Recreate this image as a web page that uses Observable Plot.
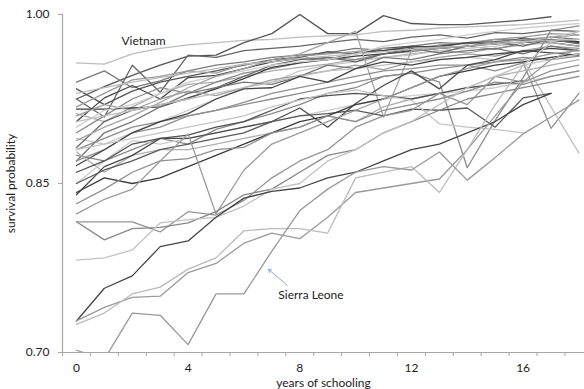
<!DOCTYPE html>
<html>
<head>
<meta charset="utf-8">
<script src="https://cdn.jsdelivr.net/npm/d3@7"></script>
<script src="https://cdn.jsdelivr.net/npm/@observablehq/plot@0.6"></script>
<style>
  html, body { margin: 0; padding: 0; background: #fff; }
  #chart svg { display: block; font-family: Lato, "Open Sans", sans-serif; }
</style>
</head>
<body>
<div id="chart"></div>
<script>
// years of schooling (x categories)
const years = [0,1,2,3,4,5,6,7,8,9,10,11,12,13,14,15,16,17,18];
const xTickLabels = [0, 4, 8, 12, 16];
const yTickLabels = [0.70, 0.85, 1.00];

// survival probability by years of schooling, one array per country
const seriesValues = [
  [0.957,0.956,0.965,0.970,0.973,0.975,0.977,0.978,0.980,0.981,0.982,0.985,0.986,0.988,0.989,0.990,0.991,0.993,0.995], // Vietnam
  [0.925,0.936,0.946,0.955,0.963,0.964,0.975,0.983,1.000,0.983,0.983,0.999,0.992,0.991,0.991,0.993,0.995,0.998,null],
  [0.925,0.909,0.955,0.931,0.964,0.962,0.968,0.970,0.972,0.975,0.978,0.976,0.980,0.982,0.979,0.984,0.983,0.986,0.985],
  [0.940,0.950,0.935,0.941,0.950,0.955,0.958,0.962,0.964,0.966,0.970,0.968,0.972,0.975,0.974,0.978,0.977,0.980,0.978],
  [0.934,0.920,0.932,0.940,0.945,0.950,0.955,0.960,0.962,0.967,0.965,0.970,0.972,0.971,0.975,0.976,0.978,0.975,0.972],
  [0.918,0.930,0.942,0.945,0.950,0.948,0.956,0.958,0.963,0.965,0.967,0.970,0.968,0.973,0.975,0.978,0.980,0.983,0.982],
  [0.905,0.926,0.937,0.925,0.944,0.946,0.952,0.958,0.961,0.960,0.966,0.968,0.971,0.972,0.975,0.974,0.979,0.977,0.975],
  [0.912,0.905,0.918,0.930,0.938,0.940,0.945,0.950,0.953,0.956,0.960,0.962,0.965,0.968,0.966,0.970,0.973,0.975,0.972],
  [0.895,0.910,0.925,0.935,0.930,0.940,0.948,0.952,0.957,0.962,0.960,0.965,0.967,0.970,0.972,0.969,0.975,0.978,0.976],
  [0.916,0.916,0.917,0.918,0.926,0.934,0.943,0.953,0.957,0.960,0.963,0.965,0.968,0.970,0.972,0.974,0.975,0.977,0.976],
  [0.890,0.885,0.895,0.905,0.915,0.925,0.935,0.940,0.950,0.955,0.958,0.962,0.964,0.968,0.970,0.972,0.975,0.980,0.985],
  [0.882,0.905,0.915,0.920,0.925,0.935,0.945,0.955,0.960,0.962,0.958,0.965,0.970,0.966,0.972,0.975,0.972,0.978,0.974],
  [0.910,0.920,0.915,0.925,0.932,0.928,0.935,0.942,0.946,0.950,0.955,0.951,0.958,0.962,0.965,0.963,0.968,0.972,0.970],
  [0.930,0.935,0.940,0.944,0.948,0.952,0.956,0.958,0.961,0.963,0.965,0.967,0.969,0.971,0.972,0.974,0.976,0.977,0.978],
  [0.870,0.895,0.905,0.918,0.930,0.935,0.940,0.938,0.945,0.955,0.952,0.962,0.960,0.965,0.968,0.970,0.965,0.972,0.968],
  [0.900,0.915,0.920,0.930,0.940,0.945,0.950,0.955,0.958,0.960,0.965,0.972,0.975,0.978,0.982,0.985,0.988,0.990,0.992],
  [0.888,0.900,0.910,0.922,0.935,0.945,0.952,0.960,0.965,0.975,0.985,0.909,0.968,0.970,0.972,0.975,0.978,0.980,0.982],
  [0.880,0.890,0.900,0.905,0.910,0.915,0.920,0.925,0.930,0.935,0.940,0.945,0.948,0.940,0.864,0.906,0.944,0.986,0.990],
  [0.870,0.880,0.895,0.900,0.910,0.915,0.922,0.930,0.935,0.940,0.945,0.950,0.952,0.955,0.955,0.950,0.957,0.899,0.930],
  [0.905,0.910,0.915,0.920,0.925,0.930,0.935,0.940,0.945,0.950,0.952,0.955,0.958,0.960,0.962,0.960,0.959,0.918,0.877],
  [0.866,0.880,0.895,0.905,0.912,0.925,0.934,0.935,0.945,0.940,0.952,0.958,0.955,0.960,0.962,0.965,0.967,0.970,0.968],
  [0.875,0.870,0.880,0.890,0.885,0.898,0.905,0.912,0.920,0.930,0.935,0.945,0.948,0.952,0.955,0.958,0.962,0.960,0.963],
  [0.878,0.860,0.875,0.880,0.880,0.885,0.890,0.895,0.900,0.910,0.905,0.918,0.925,0.930,0.935,0.945,0.950,0.955,0.960],
  [0.850,0.870,0.888,0.885,0.890,0.895,0.900,0.905,0.910,0.915,0.920,0.925,0.928,0.930,0.932,0.935,0.940,0.945,0.950],
  [0.840,0.865,0.875,0.890,0.890,0.895,0.900,0.905,0.917,0.900,0.921,0.937,0.950,0.934,0.955,0.960,0.968,0.966,0.964],
  [0.860,0.870,0.885,0.890,0.893,0.900,0.905,0.915,0.925,0.928,0.930,0.928,0.925,0.930,0.935,0.938,0.941,null,null],
  [0.850,0.862,0.870,0.880,0.885,0.890,0.895,0.905,0.910,0.912,0.915,0.910,0.916,0.915,0.917,0.900,0.926,0.930,null],
  [0.880,0.885,0.890,0.895,0.900,0.905,0.910,0.918,0.924,0.930,0.933,0.928,0.924,0.903,0.900,0.898,0.895,null,null],
  [0.842,0.855,0.850,0.855,0.865,0.875,0.885,0.895,0.905,0.910,0.920,0.925,0.935,0.945,0.950,0.955,0.958,0.962,0.965],
  [0.832,0.845,0.860,0.870,0.872,0.880,0.882,0.895,0.900,0.910,0.905,0.915,0.920,0.925,0.932,0.940,0.938,0.945,0.950],
  [0.823,0.836,0.845,0.870,0.894,0.823,0.862,0.885,0.895,0.905,0.915,0.925,0.935,0.945,0.952,0.958,0.960,0.965,0.968],
  [0.816,0.816,0.816,0.807,0.825,0.822,0.835,0.855,0.870,0.880,0.900,0.910,0.915,0.930,0.920,0.945,0.940,0.950,0.955],
  [0.816,0.800,0.810,0.811,0.815,0.825,0.840,0.845,0.860,0.875,0.880,0.895,0.905,0.915,0.925,0.930,0.935,0.940,0.945],
  [0.782,0.784,0.791,0.815,0.818,0.820,0.830,0.845,0.850,0.870,0.880,0.895,0.905,0.920,0.935,0.945,0.955,0.960,0.965],
  [0.728,0.757,0.768,0.794,0.799,0.820,0.837,0.843,0.846,0.855,0.860,0.870,0.880,0.885,0.895,0.905,0.920,0.930,null],
  [0.728,0.740,0.749,0.750,0.771,0.779,0.797,0.806,0.801,0.820,0.842,0.846,0.850,0.854,0.880,0.910,0.940,0.960,0.970],
  [0.725,0.735,0.752,0.758,0.774,0.784,0.808,0.810,0.810,0.806,0.855,0.860,0.865,0.842,0.880,0.920,0.955,0.975,0.985],
  [0.702,0.694,0.735,0.733,0.707,0.752,0.752,0.790,0.826,0.845,0.860,0.865,0.862,0.878,0.853,0.873,0.894,0.909,0.924]  // Sierra Leone
];

// line shades (style, kept apart from the values)
const seriesShades = [
  "#bdbdbd","#555555","#666666","#7a7a7a","#555555","#9a9a9a","#454545","#ababab","#888888","#3e3e3e",
  "#c8c8c8","#6a6a6a","#9e9e9e","#bcbcbc","#777777","#cfcfcf","#a5a5a5","#8c8c8c","#8f8f8f","#c0c0c0",
  "#444444","#8a8a8a","#b0b0b0","#cccccc","#4a4a4a","#505050","#5a5a5a","#c4c4c4","#3c3c3c","#8e8e8e",
  "#9b9b9b","#959595","#888888","#c2c2c2","#444444","#9a9a9a","#bbbbbb","#999999"
];

// annotations (data units)
const labelNames = ["Vietnam", "Sierra Leone"];
const labelX = [2.4, 8.4];
const labelY = [0.976, 0.7505];
const arrowFrom = [7.55, 0.7597];
const arrowTo = [6.88, 0.7737];

const rows = [];
seriesValues.forEach((vals, i) => {
  vals.forEach((v, j) => {
    if (v != null) rows.push({id: i, year: years[j], value: v, shade: seriesShades[i]});
  });
});
const labels = labelNames.map((t, i) => ({text: t, x: labelX[i], y: labelY[i]}));
const minorTicks = d3.range(-0.5, 18.3, 1);

const chart = Plot.plot({
  width: 584,
  height: 389,
  marginLeft: 62,
  marginRight: 0,
  marginTop: 14,
  marginBottom: 37,
  style: {fontFamily: "Lato, 'Open Sans', sans-serif", fontSize: "12px", color: "#222"},
  x: {domain: [-0.5, 18.2]},
  y: {domain: [0.70, 1.00]},
  color: {type: "identity"},
  marks: [
    Plot.line(rows, {x: "year", y: "value", z: "id", stroke: "shade", strokeWidth: 1.3, clip: true}),
    Plot.ruleX([-0.5], {stroke: "#a6a6a6", strokeWidth: 1.2}),
    Plot.ruleY([0.70], {stroke: "#a6a6a6", strokeWidth: 1.2}),
    Plot.axisX({ticks: minorTicks, tickSize: 4, tickFormat: () => "", stroke: "#a6a6a6", label: null}),
    Plot.axisX({ticks: xTickLabels, tickSize: 0, tickPadding: 11, fontSize: 12,
      label: "years of schooling", labelAnchor: "center", labelArrow: false, labelOffset: 34}),
    Plot.axisY({ticks: yTickLabels, tickSize: 4, tickPadding: 9, tickFormat: ".2f", stroke: "#a6a6a6", fontSize: 12,
      label: "survival probability", labelAnchor: "center", labelArrow: false, labelOffset: 56}),
    Plot.text(labels, {x: "x", y: "y", text: "text", fontSize: 12, fill: "#222"}),
    Plot.arrow([{x1: arrowFrom[0], y1: arrowFrom[1], x2: arrowTo[0], y2: arrowTo[1]}],
      {x1: "x1", y1: "y1", x2: "x2", y2: "y2", stroke: "#6f93cc", strokeWidth: 0.8, headLength: 6})
  ]
});
document.getElementById("chart").appendChild(chart);
</script>
</body>
</html>
